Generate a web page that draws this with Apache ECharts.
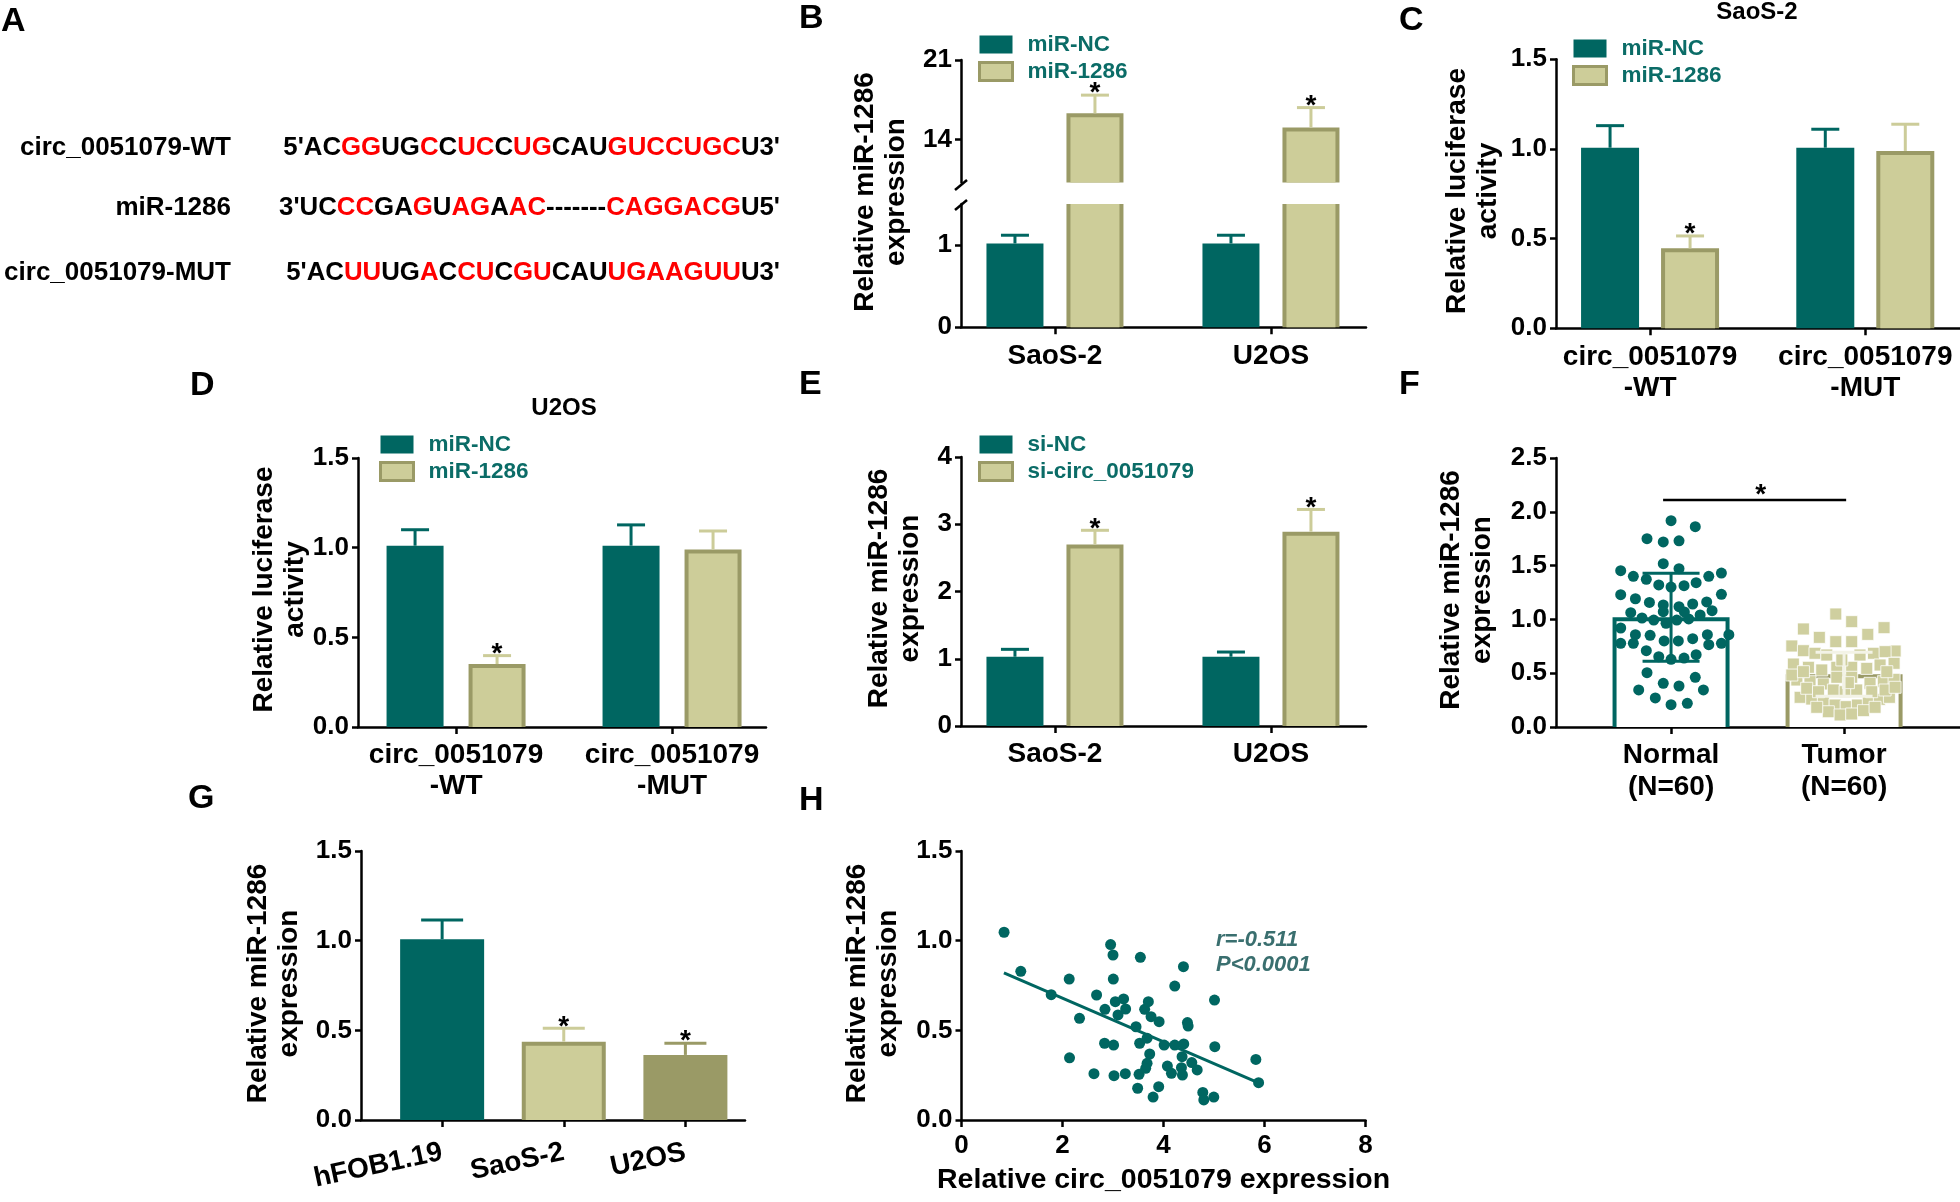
<!DOCTYPE html>
<html>
<head>
<meta charset="utf-8">
<script src="https://cdn.jsdelivr.net/npm/echarts@6/dist/echarts.min.js"></script>
<style>
html, body { margin: 0; padding: 0; background: #fff; }
#main { width: 1960px; height: 1202px; }
</style>
</head>
<body>
<div id="main"></div>
<script>
// ---- data ----
// panel A sequences, segments alternate black / red
var seqNames = ['circ_0051079-WT', 'miR-1286', 'circ_0051079-MUT'];
var seqWT = ["5'AC", "GG", "UG", "C", "C", "UC", "C", "UG", "CAU", "GUCCUGC", "U3'"];
var seqMiR = ["3'UC", "CC", "GA", "G", "U", "AG", "A", "AC", "-------", "CAGGACG", "U5'"];
var seqMUT = ["5'AC", "UU", "UG", "A", "C", "CU", "C", "GU", "CAU", "UGAAGUU", "U3'"];

var cellsBE = ['SaoS-2', 'U2OS'];
var reporters = ['circ_0051079\n-WT', 'circ_0051079\n-MUT'];
var groupsF = ['Normal\n(N=60)', 'Tumor\n(N=60)'];
var cellsG = ['hFOB1.19', 'SaoS-2', 'U2OS'];

// B
var bNC = [1.02, 1.02], bNCErr = [0.10, 0.10];
var b1286 = [16.3, 15.05], b1286Err = [1.6, 1.75];
var bStar = [1, 1];
// C (SaoS-2)
var cNC = [1.007, 1.007], cNCErr = [0.123, 0.103];
var c1286 = [0.446, 0.989], c1286Err = [0.069, 0.149];
var cStar = [1, 0];
// D (U2OS)
var dNC = [1.011, 1.011], dNCErr = [0.089, 0.116];
var d1286 = [0.351, 0.99], d1286Err = [0.047, 0.103];
var dStar = [1, 0];
// E
var eNC = [1.03, 1.03], eNCErr = [0.11, 0.07];
var eSi = [2.70, 2.89], eSiErr = [0.21, 0.33];
var eStar = [1, 1];
// F
var fMean = [1.02, 0.49], fSd = [0.41, 0.204];
var fSig = [-0.046, 1.012, 2.11];
var normX = [0.0,0.14,-0.139,-0.045,0.046,-0.045,0.046,-0.291,-0.218,-0.143,-0.071,0,0.075,0.145,0.218,0.291,-0.291,-0.206,-0.125,-0.045,0.046,0.125,0.206,0.291,-0.233,-0.045,-0.168,-0.1,-0.029,0.033,0.102,0.168,0.237,-0.291,-0.206,-0.121,-0.04,0.042,0.125,0.21,0.334,-0.291,-0.218,0.218,0.291,-0.143,-0.071,0,0.075,0.145,-0.139,0.14,-0.045,0.046,-0.187,0.187,-0.091,0,0.094,0.077];
var normY = [1.917,1.862,1.75,1.72,1.73,1.518,1.471,1.453,1.40,1.373,1.32,1.30,1.313,1.341,1.40,1.431,1.23,1.192,1.158,1.134,1.118,1.143,1.162,1.233,1.062,1.072,1.013,0.994,0.964,0.994,1.004,1.041,1.081,0.92,0.858,0.852,0.80,0.80,0.821,0.858,0.858,0.778,0.778,0.765,0.778,0.709,0.653,0.629,0.641,0.672,0.505,0.462,0.406,0.381,0.344,0.344,0.27,0.207,0.22,1.069];
var tumX = [0.952,1.044,0.765,1.231,0.857,1.137,0.952,1.044,0.698,1.295,0.765,0.832,0.9,1.092,1.17,1.237,0.707,0.794,0.871,1.208,1.289,1.044,0.958,1.131,0.958,1.044,0.727,0.803,0.88,1.15,1.227,1.289,0.938,1.006,1.073,0.746,0.813,0.88,0.948,1.012,1.077,1.14,1.204,1.262,0.909,0.977,1.044,1.112,0.698,0.784,0.852,1.16,1.237,1.295,0.842,1.179,0.765,1.247,0.987,1.025];
var tumY = [1.05,0.979,0.911,0.923,0.833,0.861,0.793,0.793,0.753,0.706,0.709,0.685,0.669,0.669,0.685,0.70,0.585,0.555,0.53,0.576,0.592,0.555,0.555,0.545,0.462,0.462,0.437,0.421,0.40,0.406,0.421,0.443,0.344,0.328,0.344,0.276,0.26,0.235,0.204,0.189,0.204,0.235,0.257,0.276,0.142,0.112,0.121,0.152,0.483,0.36,0.328,0.328,0.344,0.369,0.183,0.183,0.514,0.514,0.623,0.412];
// G
var gVal = [1.008, 0.437, 0.363], gErr = [0.107, 0.074, 0.065], gStar = [0, 1, 1];
// H
var hX = [0.843,1.174,1.776,2.133,2.139,2.337,2.675,2.623,2.841,2.833,2.953,3.0,3.006,3.012,3.02,3.046,3.099,3.21,3.25,3.244,3.456,3.542,3.528,3.516,3.488,3.627,3.7,3.675,3.727,3.675,3.647,3.754,3.913,3.794,3.905,4.012,4.077,4.157,4.223,4.223,4.395,4.401,4.368,4.355,4.375,4.474,4.488,4.56,4.667,4.778,4.798,4.996,5.01,5.016,5.829,5.883];
var hY = [1.047,0.829,0.699,0.786,0.347,0.567,0.697,0.258,0.617,0.428,0.978,0.92,0.786,0.418,0.247,0.66,0.586,0.675,0.619,0.258,0.52,0.907,0.428,0.255,0.177,0.617,0.66,0.456,0.368,0.316,0.288,0.576,0.548,0.128,0.186,0.418,0.301,0.26,0.747,0.418,0.855,0.424,0.353,0.292,0.251,0.543,0.524,0.32,0.279,0.154,0.112,0.128,0.669,0.409,0.338,0.208];
var fitX = [0.84, 5.86], fitY = [0.82, 0.21];

// ---- styles ----
var FF = "'Liberation Sans', Arial, sans-serif";
var TEAL = '#006661', LIGHT = '#cdcd99', OLIVE = '#9a9a66', ERRLIGHT = '#cccc99', LEGTXT = '#0b6c67';

function pick(v, i) { return Array.isArray(v) ? v[i] : v; }
function clipR(r, cs) {
  var x1 = Math.max(r.x, cs.x), y1 = Math.max(r.y, cs.y);
  var x2 = Math.min(r.x + r.width, cs.x + cs.width), y2 = Math.min(r.y + r.height, cs.y + cs.height);
  if (x2 <= x1 || y2 <= y1) return null;
  return { x: x1, y: y1, width: x2 - x1, height: y2 - y1 };
}
function barRender(w, off, fills, edges, bws) {
  return function (params, api) {
    var i = params.dataIndex;
    var top = api.coord([api.value(0), api.value(1)]);
    var base = api.coord([api.value(0), 0]);
    var cx = top[0] + off;
    var full = { x: cx - w / 2, y: top[1], width: w, height: base[1] - top[1] };
    var o = clipR(full, params.coordSys);
    if (!o) return;
    var bw = pick(bws, i) || 0;
    var kids = [{ type: 'rect', shape: o, style: { fill: bw ? pick(edges, i) : pick(fills, i) } }];
    if (bw) {
      var cut = o.y > full.y + 0.5;
      kids.push({ type: 'rect', shape: { x: o.x + bw, y: o.y + (cut ? 0 : bw), width: o.width - 2 * bw, height: o.height - (cut ? 0 : bw) }, style: { fill: pick(fills, i) } });
    }
    return { type: 'group', children: kids };
  };
}
function starText(x, y) {
  return { type: 'text', x: x, y: y, style: { text: '*', fill: '#000', font: 'bold 28px ' + FF, textAlign: 'center', textVerticalAlign: 'middle', align: 'center', verticalAlign: 'middle' } };
}
function errRender(off, cap, colors, lw, both) {
  return function (params, api) {
    var i = params.dataIndex;
    var x = api.value(0), v = api.value(1), e = api.value(2);
    var lo = api.coord([x, both ? v - e : v]), hi = api.coord([x, v + e]);
    var cx = lo[0] + off;
    var ls = { stroke: pick(colors, i), lineWidth: lw };
    var kids = [
      { type: 'line', shape: { x1: cx, y1: lo[1], x2: cx, y2: hi[1] }, style: ls },
      { type: 'line', shape: { x1: cx - cap / 2, y1: hi[1], x2: cx + cap / 2, y2: hi[1] }, style: ls }
    ];
    if (both) kids.push({ type: 'line', shape: { x1: cx - cap / 2, y1: lo[1], x2: cx + cap / 2, y2: lo[1] }, style: ls });
    if (api.value(3)) kids.push(starText(cx, hi[1] - 1.5));
    return { type: 'group', children: kids };
  };
}
function bars(gi, name, vals, w, off, fills, edges, bws) {
  return { type: 'custom', name: name, xAxisIndex: gi, yAxisIndex: gi, z: 2, silent: true,
    itemStyle: { color: pick(fills, 0) },
    renderItem: barRender(w, off, fills, edges, bws),
    data: vals.map(function (v, i) { return [i, v]; }) };
}
function errs(gi, name, vals, es, st, off, cap, colors, both) {
  return { type: 'custom', name: name, xAxisIndex: gi, yAxisIndex: gi, z: 4, silent: true,
    renderItem: errRender(off, cap, colors, 3, both),
    data: vals.map(function (v, i) { return [i, v, es[i], st ? st[i] : 0]; }) };
}

function yAx(gi, min, max, interval, fmt, custom) {
  var lab = { color: '#000', fontSize: 26, fontWeight: 'bold', fontFamily: FF, margin: 9 };
  if (fmt) lab.formatter = fmt;
  var tick = { show: true, length: 6, lineStyle: { color: '#000', width: 2.5 } };
  if (custom) { lab.customValues = custom; tick.customValues = custom; }
  var ax = { type: 'value', gridIndex: gi, min: min, max: max, splitLine: { show: false },
    axisLine: { show: true, onZero: false, lineStyle: { color: '#000', width: 2.5 } }, axisTick: tick, axisLabel: lab };
  if (interval) ax.interval = interval;
  return ax;
}
function xCat(gi, min, max, names, extra) {
  var idx = names.map(function (n, i) { return i; });
  var lab = { color: '#000', fontSize: 28, fontWeight: 'bold', fontFamily: FF, margin: 13, lineHeight: 31,
    customValues: idx, formatter: function (v) { return names[Math.round(v)]; } };
  if (extra) for (var k in extra) lab[k] = extra[k];
  return { type: 'value', gridIndex: gi, min: min, max: max, splitLine: { show: false },
    axisLine: { show: true, onZero: false, lineStyle: { color: '#000', width: 2.5 } },
    axisTick: { show: true, length: 7, customValues: idx, lineStyle: { color: '#000', width: 2.5 } },
    axisLabel: lab };
}
var fmt1 = function (v) { return v.toFixed(1); };

var grids = [
  { left: 961, top: 60, width: 405, height: 122.4 },     // B upper
  { left: 961, top: 204, width: 405, height: 123.3 },    // B lower
  { left: 1556, top: 59.3, width: 404, height: 269 },    // C
  { left: 358, top: 458, width: 408, height: 269 },      // D
  { left: 961, top: 457, width: 405, height: 269 },      // E
  { left: 1556, top: 458, width: 404, height: 269 },     // F
  { left: 361, top: 851, width: 384, height: 269 },      // G
  { left: 961.5, top: 851, width: 404, height: 269 }     // H
];
var xAxes = [
  { type: 'value', gridIndex: 0, min: -0.435, max: 1.44, show: false },
  xCat(1, -0.435, 1.44, cellsBE),
  xCat(2, -0.437, 1.44, reporters),
  xCat(3, -0.454, 1.435, reporters),
  xCat(4, -0.435, 1.44, cellsBE),
  xCat(5, -0.665, 1.67, groupsF, { lineHeight: 32, margin: 12 }),
  xCat(6, -0.667, 2.49, cellsG, { rotate: 12, fontSize: 28, margin: 32 }),
  { type: 'value', gridIndex: 7, min: 0, max: 8, interval: 2, splitLine: { show: false },
    axisLine: { show: true, onZero: false, lineStyle: { color: '#000', width: 2.5 } },
    axisTick: { show: true, length: 7, lineStyle: { color: '#000', width: 2.5 } },
    axisLabel: { color: '#000', fontSize: 26, fontWeight: 'bold', fontFamily: FF, margin: 13 } }
];
var yAxes = [
  yAx(0, 10.2, 21, null, null, [14, 21]),
  yAx(1, 0, 1.5, null, null, [0, 1]),
  yAx(2, 0, 1.5, 0.5, fmt1),
  yAx(3, 0, 1.5, 0.5, fmt1),
  yAx(4, 0, 4, 1),
  yAx(5, 0, 2.5, 0.5, fmt1),
  yAx(6, 0, 1.5, 0.5, fmt1),
  yAx(7, 0, 1.5, 0.5, fmt1)
];

var series = [
  // B (broken axis: two grids)
  bars(0, 'miR-NC', bNC, 57, -40, TEAL, null, 0),
  bars(0, 'miR-1286', b1286, 57, 40, LIGHT, OLIVE, 4),
  errs(0, 'miR-1286', b1286, b1286Err, bStar, 40, 28, ERRLIGHT, false),
  bars(1, 'miR-NC', bNC, 57, -40, TEAL, null, 0),
  bars(1, 'miR-1286', b1286, 57, 40, LIGHT, OLIVE, 4),
  errs(1, 'miR-NC', bNC, bNCErr, null, -40, 28, TEAL, false),
  // C
  bars(2, 'miR-NC', cNC, 58, -40, TEAL, null, 0),
  bars(2, 'miR-1286', c1286, 58, 40, LIGHT, OLIVE, 4),
  errs(2, 'miR-NC', cNC, cNCErr, null, -40, 28, TEAL, false),
  errs(2, 'miR-1286', c1286, c1286Err, cStar, 40, 28, ERRLIGHT, false),
  // D
  bars(3, 'miR-NC', dNC, 57, -41, TEAL, null, 0),
  bars(3, 'miR-1286', d1286, 57, 41, LIGHT, OLIVE, 4),
  errs(3, 'miR-NC', dNC, dNCErr, null, -41, 28, TEAL, false),
  errs(3, 'miR-1286', d1286, d1286Err, dStar, 41, 28, ERRLIGHT, false),
  // E
  bars(4, 'si-NC', eNC, 57, -40, TEAL, null, 0),
  bars(4, 'si-circ_0051079', eSi, 57, 40, LIGHT, OLIVE, 4),
  errs(4, 'si-NC', eNC, eNCErr, null, -40, 28, TEAL, false),
  errs(4, 'si-circ_0051079', eSi, eSiErr, eStar, 40, 28, ERRLIGHT, false),
  // F
  bars(5, 'tissue', fMean, 117, 0, ['#fff', '#fff'], [TEAL, OLIVE], 4),
  { type: 'scatter', xAxisIndex: 5, yAxisIndex: 5, z: 3, silent: true, symbol: 'circle', symbolSize: 11,
    itemStyle: { color: TEAL, opacity: 1 }, data: normX.map(function (x, i) { return [x, normY[i]]; }) },
  { type: 'scatter', xAxisIndex: 5, yAxisIndex: 5, z: 3, silent: true, symbol: 'rect', symbolSize: 12,
    itemStyle: { color: '#cfcf9f', opacity: 1, borderColor: '#fff', borderWidth: 0.8 },
    data: tumX.map(function (x, i) { return [x, tumY[i]]; }) },
  errs(5, 'tissueSD', fMean, fSd, null, 0, 57, [TEAL, '#f3f3e6'], true),
  { type: 'custom', xAxisIndex: 5, yAxisIndex: 5, z: 4, silent: true, data: [fSig],
    renderItem: function (params, api) {
      var a = api.coord([api.value(0), api.value(2)]), b = api.coord([api.value(1), api.value(2)]);
      return { type: 'group', children: [
        { type: 'line', shape: { x1: a[0], y1: a[1], x2: b[0], y2: b[1] }, style: { stroke: '#000', lineWidth: 2.5 } },
        starText((a[0] + b[0]) / 2 + 6, a[1] - 5)
      ] };
    } },
  // G
  bars(6, 'cells', gVal, 84, 0, [TEAL, LIGHT, OLIVE], [null, OLIVE, null], [0, 4, 0]),
  errs(6, 'cells', gVal, gErr, gStar, 0, 42, [TEAL, ERRLIGHT, OLIVE], false),
  // H
  { type: 'scatter', xAxisIndex: 7, yAxisIndex: 7, z: 3, silent: true, symbolSize: 11,
    itemStyle: { color: TEAL, opacity: 1 }, data: hX.map(function (x, i) { return [x, hY[i]]; }) },
  { type: 'line', xAxisIndex: 7, yAxisIndex: 7, z: 2, silent: true, symbol: 'none',
    lineStyle: { color: TEAL, width: 3 }, data: fitX.map(function (x, i) { return [x, fitY[i]]; }) }
];

function legendAt(left, top, names, styles) {
  return { orient: 'vertical', left: left, top: top, padding: 0, itemWidth: 33, itemHeight: 18, itemGap: 4,
    selectedMode: false,
    textStyle: { color: LEGTXT, fontSize: 22.5, fontWeight: 'bold', fontFamily: FF, padding: [0, 0, 0, 10] },
    data: names.map(function (n, i) { return { name: n, icon: 'rect', itemStyle: styles[i] }; }) };
}
var legNC = { color: TEAL, borderWidth: 0 };
var legLT = { color: LIGHT, borderColor: OLIVE, borderWidth: 3 };
var legends = [
  legendAt(978, 33, ['miR-NC', 'miR-1286'], [legNC, legLT]),
  legendAt(1572, 37, ['miR-NC', 'miR-1286'], [legNC, legLT]),
  legendAt(379, 433, ['miR-NC', 'miR-1286'], [legNC, legLT]),
  legendAt(978, 433, ['si-NC', 'si-circ_0051079'], [legNC, legLT])
];

// ---- texts ----
function txt(x, y, text, font, align, extra) {
  var el = { type: 'text', x: x, y: y, silent: true,
    style: { text: text, font: font, fill: '#000', textAlign: align, textVerticalAlign: 'middle', align: align, verticalAlign: 'middle' } };
  if (extra) for (var k in extra) { if (k === 'style') { for (var s in extra.style) el.style[s] = extra.style[s]; } else el[k] = extra[k]; }
  return el;
}
var F26 = 'bold 26px ' + FF, F34 = 'bold 34px ' + FF, F28 = 'bold 28px ' + FF;
function seqRich(segs) {
  return segs.map(function (s, i) { return '{' + (i % 2 ? 'r' : 'k') + '|' + s + '}'; }).join('');
}
var richSeq = {
  k: { fill: '#000', fontSize: 25.8, fontWeight: 'bold', fontFamily: FF },
  r: { fill: '#ff0000', fontSize: 25.8, fontWeight: 'bold', fontFamily: FF }
};
var rowsY = [148, 208, 273];
var seqs = [seqWT, seqMiR, seqMUT];
var graphics = [];
[['A', 1, 21.5], ['B', 799, 19], ['C', 1399, 21], ['D', 190, 386], ['E', 799, 385],
 ['F', 1399, 385], ['G', 188, 799], ['H', 799, 801]].forEach(function (p) {
  graphics.push(txt(p[1], p[2], p[0], F34, 'left'));
});
seqNames.forEach(function (n, i) {
  graphics.push(txt(231, rowsY[i], n, F26, 'right'));
  graphics.push(txt(780, rowsY[i], seqRich(seqs[i]), F26, 'right', { style: { rich: richSeq } }));
});
graphics.push(txt(1757, 12.5, 'SaoS-2', 'bold 24px ' + FF, 'center'));
graphics.push(txt(564, 408, 'U2OS', 'bold 24px ' + FF, 'center'));
var yTitles = [
  [881, 192, 'Relative miR-1286\nexpression'],
  [1473, 191, 'Relative luciferase\nactivity'],
  [280, 589.5, 'Relative luciferase\nactivity'],
  [894.6, 588.5, 'Relative miR-1286\nexpression'],
  [1466.7, 590, 'Relative miR-1286\nexpression'],
  [273.7, 983.5, 'Relative miR-1286\nexpression'],
  [873, 983.5, 'Relative miR-1286\nexpression']
];
yTitles.forEach(function (t) {
  graphics.push(txt(t[0], t[1], t[2], F28, 'center', { rotation: Math.PI / 2, style: { lineHeight: 31 } }));
});
graphics.push(txt(1163.6, 1180, 'Relative circ_0051079 expression', 'bold 28.5px ' + FF, 'center'));
graphics.push(txt(1216, 952.5, 'r=-0.511\nP<0.0001', 'italic bold 22px ' + FF, 'left',
  { style: { fill: '#3a6f6f', lineHeight: 25 } }));
// axis break marks on panel B
graphics.push({ type: 'line', silent: true, shape: { x1: 955, y1: 190, x2: 967, y2: 180 }, style: { stroke: '#000', lineWidth: 2.5 } });
graphics.push({ type: 'line', silent: true, shape: { x1: 955, y1: 210, x2: 967, y2: 200 }, style: { stroke: '#000', lineWidth: 2.5 } });

var chart = echarts.init(document.getElementById('main'), null, { renderer: 'canvas' });
chart.setOption({
  backgroundColor: '#fff',
  animation: false,
  grid: grids,
  xAxis: xAxes,
  yAxis: yAxes,
  legend: legends,
  series: series,
  graphic: { elements: graphics }
});
</script>
</body>
</html>
